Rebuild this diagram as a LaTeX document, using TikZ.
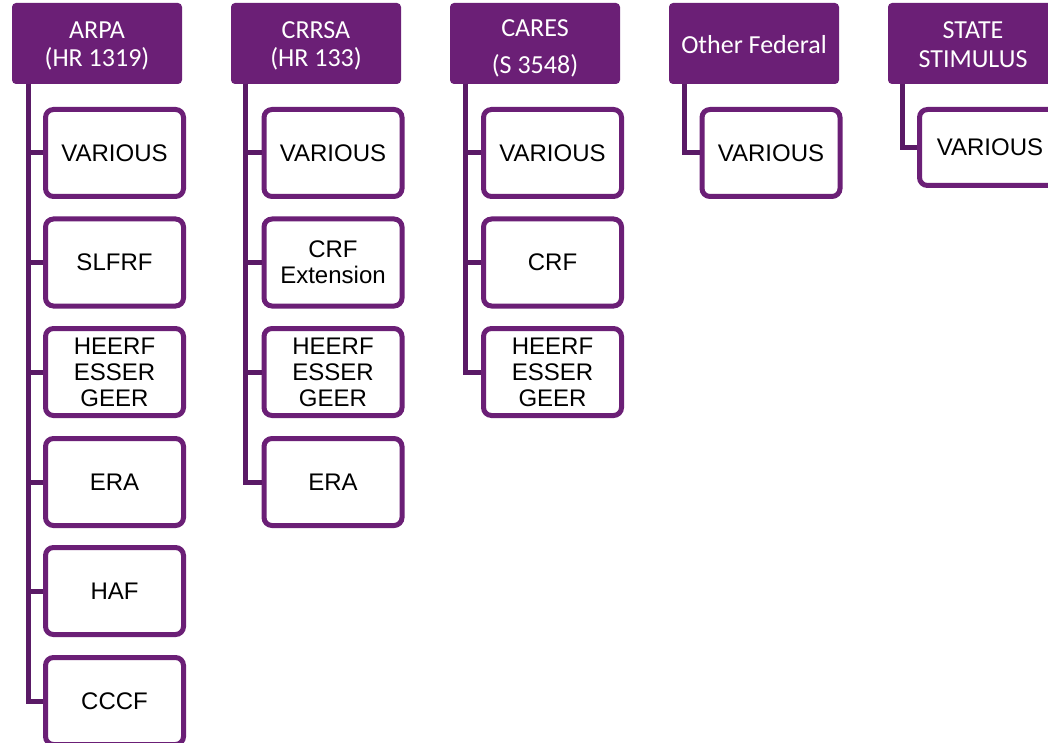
\documentclass[tikz,border=0pt]{standalone}
\usepackage{fontspec}
\setmainfont{Liberation Sans}
\newfontfamily\hdrfont{Carlito}
\definecolor{hdrpurple}{HTML}{6B1F76}
\definecolor{linepurple}{HTML}{5A1A66}
\newcommand{\hdtext}[3][28.5]{\raisebox{-#2}[\height][\depth]{\fontsize{26}{#1}\selectfont\begin{tabular}{@{}c@{}}#3\end{tabular}}}
\begin{document}
\begin{tikzpicture}[x=1pt,y=-1pt,
  hdr/.style={fill=hdrpurple, draw=none, rounded corners=4pt, minimum width=170pt, minimum height=81pt,
    inner sep=0pt, text=white, font=\hdrfont},
  child/.style={draw=hdrpurple, line width=5pt, fill=white, rounded corners=8pt, minimum width=138pt,
    minimum height=87pt, inner sep=0pt, text=black, align=center, font=\fontsize{24}{26}\selectfont},
  conn/.style={draw=linepurple, line width=5pt, line join=miter}]
\useasboundingbox (0,0) rectangle (1048,743);
% headers
\node[hdr] (h1) at (97,43.5) {\hdtext{3.5pt}{ARPA\\(HR 1319)}};
\node[hdr] (h2) at (316,43.5) {\hdtext{3.5pt}{CRRSA\\(HR 133)}};
\node[hdr] (h3) at (535,43.5) {\hdtext[37]{4pt}{CARES\\(S 3548)}};
\node[hdr] (h4) at (754,43.5) {\hdtext{4pt}{Other Federal}};
\node[hdr] (h5) at (973,43.5) {\hdtext{4pt}{STATE\\STIMULUS}};
% connector tops
\coordinate (c1) at (28,84);
\coordinate (c2) at (245.5,84);
\coordinate (c3) at (465,84);
\coordinate (c4) at (684.5,84);
\coordinate (c5) at (902.5,84);
% ARPA children
\node[child] (a1) at (114.5,153) {VARIOUS};
\node[child] (a2) at (114.5,262.5) {SLFRF};
\node[child] (a3) at (114.5,372) {HEERF\\ESSER\\GEER};
\node[child] (a4) at (114.5,482) {ERA};
\node[child] (a5) at (114.5,591) {HAF};
\node[child] (a6) at (114.5,701) {CCCF};
% CRRSA children
\node[child] (b1) at (333,153) {VARIOUS};
\node[child] (b2) at (333,262.5) {CRF\\Extension};
\node[child] (b3) at (333,372) {HEERF\\ESSER\\GEER};
\node[child] (b4) at (333,482) {ERA};
% CARES children
\node[child] (d1) at (552.5,153) {VARIOUS};
\node[child] (d2) at (552.5,262.5) {CRF};
\node[child] (d3) at (552.5,372) {HEERF\\ESSER\\GEER};
% Other Federal
\node[child] (e1) at (771,153) {VARIOUS};
% State
\node[child, minimum height=76pt, minimum width=141pt] (f1) at (990,147.5) {VARIOUS};
% connectors
\foreach \n in {a1,a2,a3,a4,a5,a6} \draw[conn] (c1) |- (\n.west);
\foreach \n in {b1,b2,b3,b4} \draw[conn] (c2) |- (\n.west);
\foreach \n in {d1,d2,d3} \draw[conn] (c3) |- (\n.west);
\draw[conn] (c4) |- (e1.west);
\draw[conn] (c5) |- (f1.west);
\end{tikzpicture}
\end{document}
